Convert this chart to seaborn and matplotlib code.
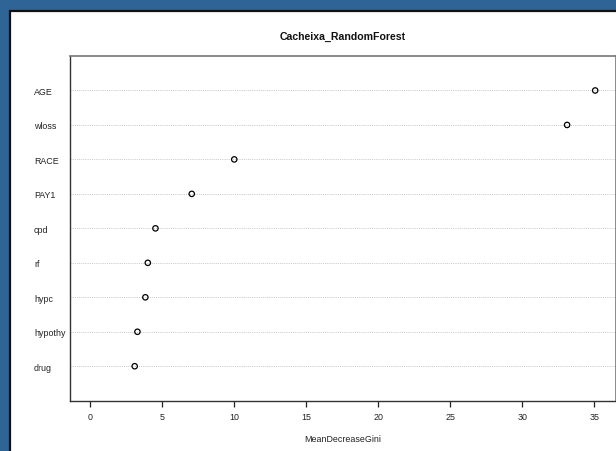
import matplotlib
matplotlib.use("Agg")
import matplotlib.pyplot as plt
import seaborn as sns
import pandas as pd
from matplotlib.patches import Rectangle

variables = ["AGE", "wloss", "RACE", "PAY1", "cpd", "rf", "hypc", "hypothy", "drug"]
gini = [35.05, 33.1, 10.0, 7.05, 4.53, 4.0, 3.83, 3.28, 3.09]
x_ticks = [0, 5, 10, 15, 20, 25, 30, 35]
title = "Cacheixa_RandomForest"
x_label = "MeanDecreaseGini"

df = pd.DataFrame({"variable": variables, "gini": gini})

sns.set_theme(style="white")
plt.rcParams["font.family"] = ["Liberation Sans", "DejaVu Sans"]

fig = plt.figure(figsize=(6.16, 4.52), dpi=100)
fig.patch.set_facecolor("#2f6497")
panel = Rectangle((10 / 616, -0.01), 1.0, (452 - 12) / 452 + 0.01, transform=fig.transFigure,
                  facecolor="white", edgecolor="#111111", linewidth=1.6, zorder=-10)
fig.add_artist(panel)

ax = fig.add_axes([70 / 616, (452 - 401.7) / 452, (615.5 - 70) / 616, (401.7 - 57) / 452])
ax.set_zorder(1)
ax.set_facecolor("white")

sns.scatterplot(data=df, x="gini", y="variable", ax=ax, s=15, marker="o",
                facecolor="none", edgecolor="black", linewidth=0.9, zorder=3)

ax.set_ylim(len(variables), -1)
ax.set_xlim(-1.40, 36.46)
ax.set_xticks(x_ticks)
ax.set_xticklabels([str(t) for t in x_ticks])

ax.grid(axis="y", linestyle=(0, (1, 1.2)), color="#c6c6c6", linewidth=0.7)
ax.grid(axis="x", visible=False)

ax.tick_params(axis="y", length=0, pad=25.9, labelsize=6.4, labelcolor="#222222")
for lab in ax.get_yticklabels():
    lab.set_horizontalalignment("left")
ax.tick_params(axis="x", length=4.3, width=0.9, direction="out", pad=4, labelsize=6.4,
               labelcolor="#222222", color="#222222", bottom=True)

for side in ["left", "bottom"]:
    ax.spines[side].set_color("#333333")
    ax.spines[side].set_linewidth(1.0)
for side in ["top", "right"]:
    ax.spines[side].set_color("#777777")
    ax.spines[side].set_linewidth(1.2)

ax.set_ylabel("")
ax.set_xlabel(x_label, fontsize=6.4, color="#222222", labelpad=9)
ax.set_title(title, fontsize=7.6, fontweight="bold", pad=12.5, color="#111111")

fig.savefig("out.png", dpi=100, facecolor=fig.get_facecolor())
